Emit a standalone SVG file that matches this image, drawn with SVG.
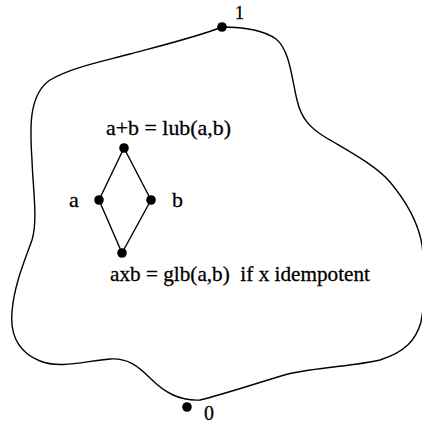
<svg xmlns="http://www.w3.org/2000/svg" width="422" height="426" viewBox="0 0 422 426">
<style>
.t{font-family:"Liberation Serif","Times New Roman",serif;font-size:22px;fill:#000;stroke:#000;stroke-width:0.3}
.ln{fill:none;stroke:#000;stroke-width:1.4}
.dot{fill:#000}
</style>
<rect width="422" height="426" fill="#fff"/>
<g id="region">
<path class="ln" d="M222,27 C240,27 262,29 276,39 C290,50 292,80 297,100 C301,118 310,128 325,137 C350,152 375,165 390,182 C405,200 418,220 422,245 C425,270 425,300 421,322 C416,340 405,352 380,360 C355,366 320,367 288,374 C260,382 225,394 200,400 C180,401 165,393 150,378 C138,366 128,358 110,359 C85,361 60,369 40,361 C18,352 10,335 12,312 C14,285 25,260 32,240 C38,220 33,190 32,160 C30,130 28,95 50,80 C70,68 100,62 130,54 C160,46 200,36 222,27 Z"/>
</g>
<g id="connectors">
<line class="ln" x1="124" y1="148" x2="99" y2="200"/>
<line class="ln" x1="124" y1="148" x2="151" y2="200"/>
<line class="ln" x1="99" y1="200" x2="122" y2="253"/>
<line class="ln" x1="151" y1="200" x2="122" y2="253"/>
</g>
<g id="top">
<circle class="dot" cx="222" cy="27" r="4.8"/>
<text class="t" x="235" y="19" style="font-size:18px">1</text>
</g>
<g id="bottom">
<circle class="dot" cx="187" cy="407" r="4.8"/>
<text class="t" x="204" y="420" style="font-size:20px">0</text>
</g>
<g id="lub">
<circle class="dot" cx="124" cy="148" r="4.8"/>
<text class="t" x="106" y="135" textLength="125" lengthAdjust="spacingAndGlyphs">a+b = lub(a,b)</text>
</g>
<g id="a">
<circle class="dot" cx="99" cy="200" r="4.8"/>
<text class="t" x="69" y="207">a</text>
</g>
<g id="b">
<circle class="dot" cx="151" cy="200" r="4.8"/>
<text class="t" x="172" y="207">b</text>
</g>
<g id="glb">
<circle class="dot" cx="122" cy="253" r="4.8"/>
<text class="t" x="110" y="281" xml:space="preserve" textLength="260" lengthAdjust="spacingAndGlyphs">axb = glb(a,b)  if x idempotent</text>
</g>
</svg>
